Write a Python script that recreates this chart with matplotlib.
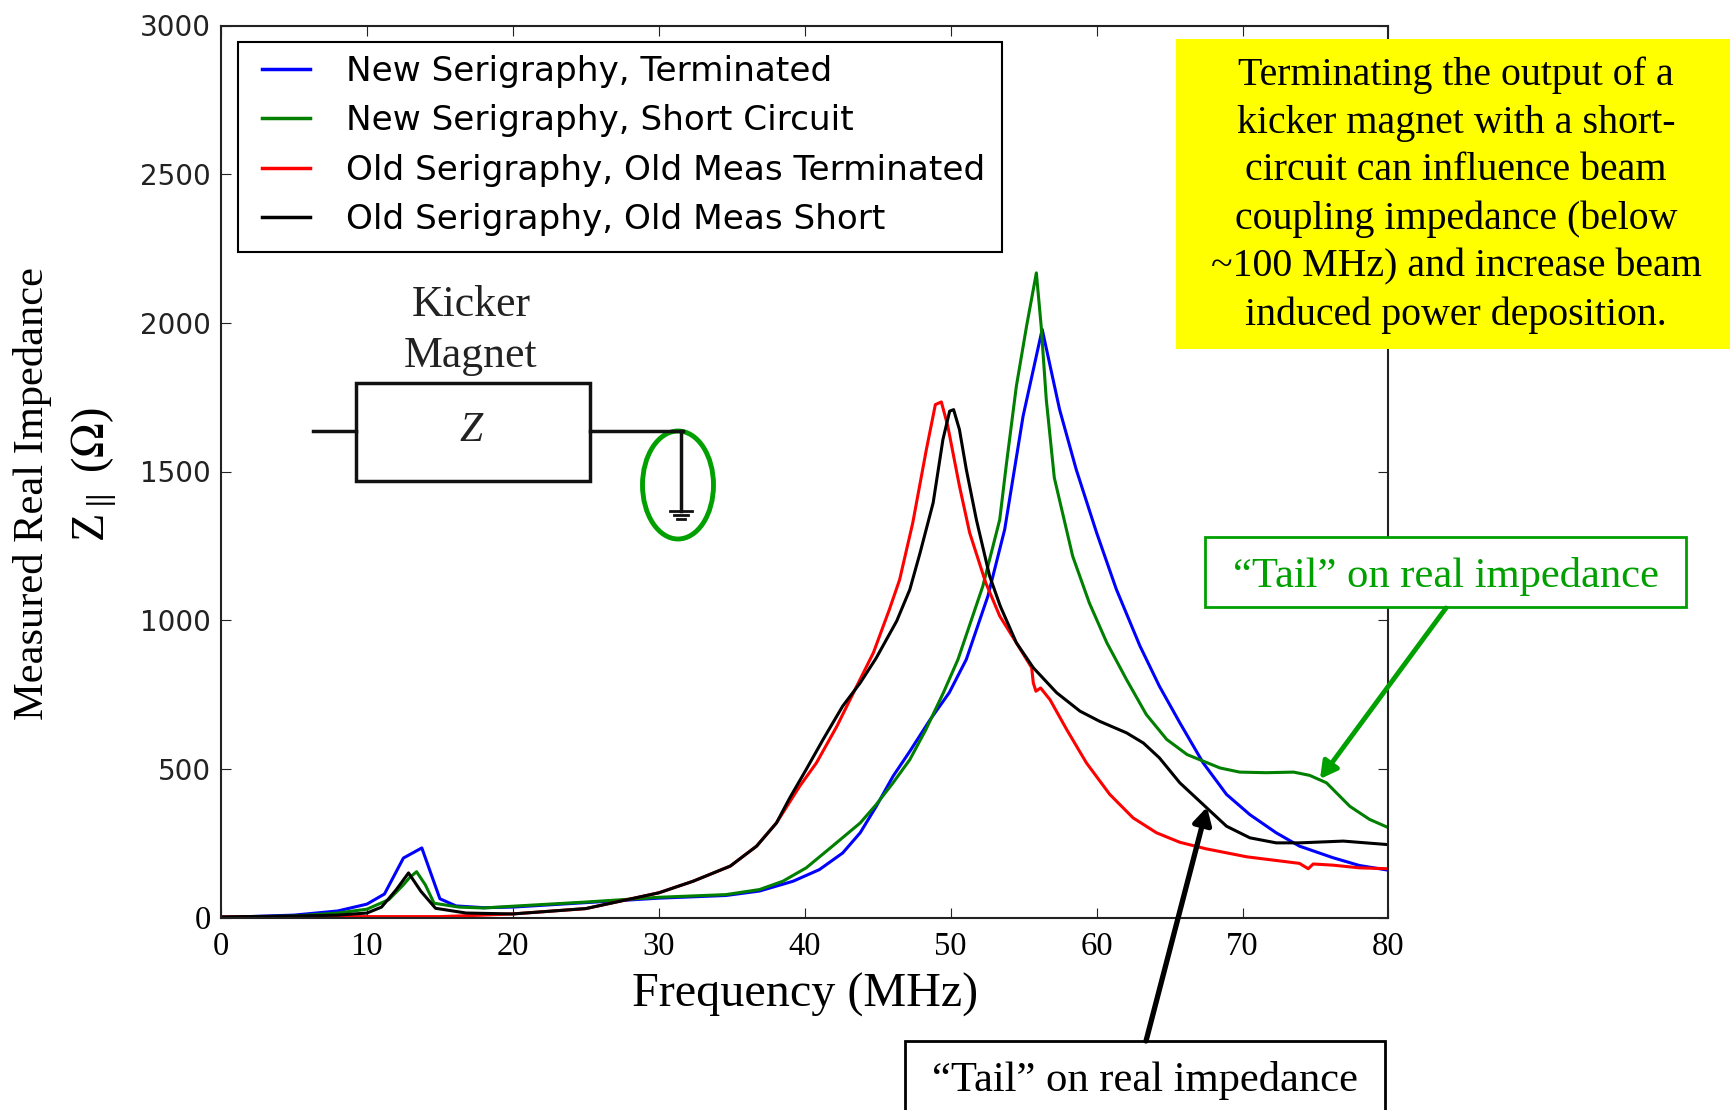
import matplotlib
matplotlib.use("Agg")
import matplotlib.pyplot as plt
from matplotlib.patches import Rectangle, Ellipse

W, H = 1731, 1110
SERIF = "Liberation Serif"

blue_x = [0,5,8,10,11.2,12.5,13.76,15,16.1,18,20,25,30,34.6,36.9,39.2,41,42.6,43.8,44.9,46.05,47.2,48.6,49.9,51.07,52.55,53.7,54.96,56.27,57.46,58.6,60,61.35,62.97,64.3,65.7,67.3,68.9,70.5,72.3,73.9,76.2,78,80]
blue_y = [0,8,22,45,79,200,234,63,39,33,35,50,65,74,89,122,161,217,285,374,475,559,666,756,868,1081,1305,1686,1978,1709,1507,1294,1104,913,778,655,520,414,346,285,240,201,175,159]
green_x = [0,5,8,10,11.5,12.5,12.9,13.4,14,14.6,16.3,18,20,25,30,34.6,36.9,38.5,40.1,41.9,43.8,44.9,46.05,47.2,48.3,49.5,50.5,52.2,53.36,53.8,54.5,55.2,55.87,56.2,56.55,57.1,58.36,59.5,60.7,62.05,63.4,64.8,66.2,67.3,68.45,69.8,71.6,73.5,74.6,75.75,77.35,78.7,80]
green_y = [0,5,15,28,60,110,133,154,110,48,35,32,38,52,68,77,94,122,167,240,318,380,453,531,632,756,868,1114,1338,1518,1787,1989,2168,1989,1742,1479,1215,1058,924,800,683,599,548,526,503,489,487,489,478,453,374,330,302]
red_x = [0,10,15,18,20,25,30,32.35,34.9,36.7,38.06,39.66,40.8,42.2,43.5,44.7,45.8,46.5,47.4,48.33,48.95,49.36,49.8,50.6,51.3,52.4,53.36,54.5,55.55,55.66,55.84,56.16,56.8,57.95,59.3,60.9,62.5,64.1,65.7,67.5,70.3,73.9,74.5,74.84,76.2,78,80]
red_y = [2,3,3,8,12,30,83,122,173,240,318,442,520,643,772,890,1036,1136,1327,1573,1725,1734,1653,1451,1294,1126,1014,924,840,789,761,772,733,632,520,414,335,285,253,231,204,182,164,180,176,167,164]
black_x = [0,5,8,10,11,12,12.85,13.7,14.7,16.8,20,25,30,32.35,34.9,36.7,38.06,38.97,40.1,41.26,42.6,43.8,44.9,46.3,47.2,47.9,48.8,49.47,49.93,50.2,50.6,51.07,51.76,52.67,53.4,54.5,55.66,57.26,58.86,60.2,62.05,63.2,64.3,65.7,67.3,68.9,70.5,72.3,73.9,76.9,80]
black_y = [2,5,8,15,35,93,150,88,31,15,12,30,83,122,173,240,318,402,498,599,711,789,873,997,1103,1226,1395,1608,1703,1708,1641,1507,1338,1148,1047,924,840,756,694,660,621,587,537,453,380,307,268,251,251,257,245]

series_names = ["New Serigraphy, Terminated", "New Serigraphy, Short Circuit",
                "Old Serigraphy, Old Meas Terminated", "Old Serigraphy, Old Meas Short"]
x_ticks = [0,10,20,30,40,50,60,70,80]
y_ticks = [0,500,1000,1500,2000,2500,3000]

fig = plt.figure(figsize=(W/100, H/100), dpi=100, facecolor="white")
L, R, T, B = 221, 1388.5, 25.5, 917.5
ax = fig.add_axes([L/W, 1-B/H, (R-L)/W, (B-T)/H])
ax.plot(blue_x, blue_y, color="#0000ff", lw=2.2, label=series_names[0])
ax.plot(green_x, green_y, color="#007f00", lw=2.2, label=series_names[1])
ax.plot(red_x, red_y, color="#ff0000", lw=2.2, label=series_names[2])
ax.plot(black_x, black_y, color="#000000", lw=2.2, label=series_names[3])
ax.set_xlim(0, 80)
ax.set_ylim(0, 3000)
ax.set_xticks(x_ticks)
ax.set_yticks(y_ticks)
ax.tick_params(direction="in", top=True, right=True, length=7, width=0.8, color="#222222")
ax.tick_params(axis="x", labelsize=23.5, pad=10)
ax.tick_params(axis="y", labelsize=20, pad=7.5, labelcolor="#222222")
for t in ax.get_xticklabels():
    t.set_fontfamily(SERIF)
    t.set_color("black")
ylabs = ax.get_yticklabels()
ylabs[0].set_fontfamily(SERIF)
ylabs[0].set_fontsize(23.5)
ylabs[0].set_color("black")
for s in ax.spines.values():
    s.set_linewidth(1.5)
    s.set_color("#222222")

leg = ax.legend(loc="upper left", bbox_to_anchor=((262-L)/(R-L), 1-(55-T)/(B-T)), borderaxespad=0,
                frameon=False, fontsize=24.7,
                handlelength=1.41, handletextpad=1.04, labelspacing=0.48, borderpad=0)
for line in leg.get_lines():
    line.set_linewidth(2.5)

# overlay in pixel space for the slide annotations
ov = fig.add_axes([0, 0, 1, 1], zorder=5)
ov.set_xlim(0, W)
ov.set_ylim(H, 0)
ov.axis("off")
ov.patch.set_alpha(0)

ov.add_patch(Rectangle((238.5, 42), 764, 210, fc="none", ec="black", lw=1.5))

ov.text(805, 995, "Frequency (MHz)", family=SERIF, fontsize=34.7, ha="center", va="center")
ov.text(33, 494, "Measured Real Impedance", family=SERIF, fontsize=30.6, rotation=90, ha="center", va="center")
ov.text(94, 475, r"Z$_{\parallel}$ ($\Omega$)", family=SERIF, fontsize=33.5, rotation=90, ha="center", va="center",
        math_fontfamily="stix")

# yellow note
ov.add_patch(Rectangle((1176, 39), 555, 310, fc="#ffff00", ec="none"))
note = ["Terminating the output of a", "kicker magnet with a short-", "circuit can influence beam",
        "coupling impedance (below", "~100 MHz) and increase beam", "induced power deposition."]
for i, s in enumerate(note):
    ov.text(1456, 75 + i*48, s, family=SERIF, fontsize=28.7, ha="center", va="center")

# kicker schematic
ov.text(471, 305, "Kicker", family=SERIF, fontsize=31.5, color="#222222", ha="center", va="center")
ov.text(471, 356, "Magnet", family=SERIF, fontsize=31.5, color="#222222", ha="center", va="center")
ov.add_patch(Rectangle((356, 383), 234, 98, fc="none", ec="#111111", lw=2.5))
ov.text(471, 431, "Z", family=SERIF, style="italic", fontsize=30, color="#222222", ha="center", va="center")
ov.plot([313, 356], [431, 431], color="#111111", lw=2.5)
ov.plot([590, 683], [431, 431], color="#111111", lw=2.5)
ov.plot([681, 681], [431, 511], color="#111111", lw=2.5)
ov.plot([670, 692], [511, 511], color="#111111", lw=2)
ov.plot([674, 688], [515, 515], color="#111111", lw=2)
ov.plot([677, 685], [519, 519], color="#111111", lw=2)
ov.add_patch(Ellipse((678, 485), 71, 108, fc="none", ec="#00a000", lw=3.5))

# tail callouts
ov.add_patch(Rectangle((1205, 537), 481, 70, fc="white", ec="#00a000", lw=2))
ov.text(1446, 577, "\u201cTail\u201d on real impedance", family=SERIF, fontsize=30.7, color="#00a000",
        ha="center", va="center")
ov.annotate("", xy=(1320, 779), xytext=(1446, 608),
            arrowprops=dict(arrowstyle="-|>,head_width=0.55,head_length=1.0", color="#00a000", lw=3.5,
                            shrinkA=0, shrinkB=0))
ov.add_patch(Rectangle((905, 1041), 480, 80, fc="white", ec="black", lw=2, clip_on=True))
ov.text(1145, 1081, "\u201cTail\u201d on real impedance", family=SERIF, fontsize=30.7, color="black",
        ha="center", va="center")
ov.annotate("", xy=(1207, 807), xytext=(1146, 1041),
            arrowprops=dict(arrowstyle="-|>,head_width=0.55,head_length=1.0", color="black", lw=3.8,
                            shrinkA=0, shrinkB=0))

fig.savefig("out.png", dpi=100)
